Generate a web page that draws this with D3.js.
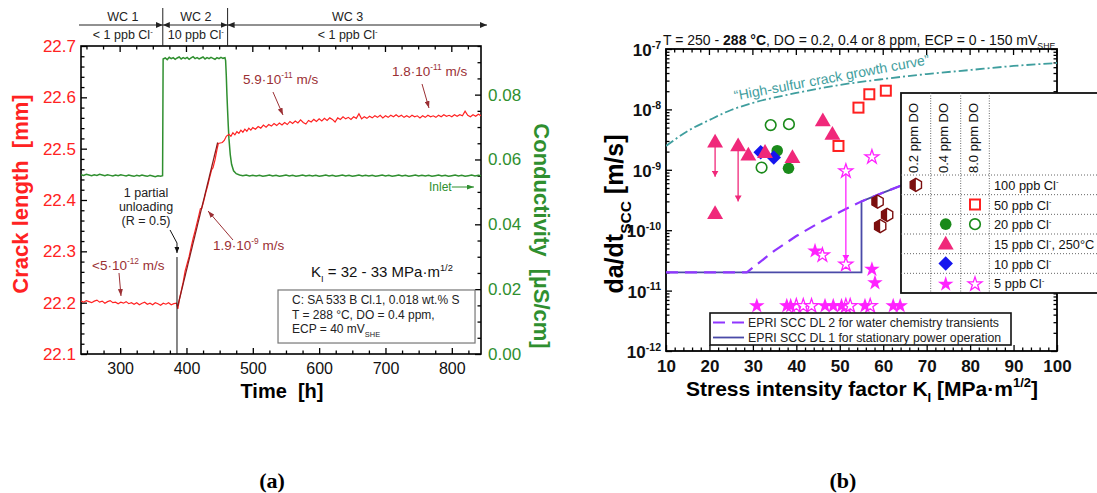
<!DOCTYPE html>
<html><head><meta charset="utf-8">
<script src="https://cdn.jsdelivr.net/npm/d3@7"></script>
<style>
body{margin:0;background:#fff;}
svg{display:block;}
text{white-space:pre;}
</style></head><body>
<svg id="c" width="1097" height="493"></svg>
<script>
// ================= DATA =================
// Panel (a): crack length [mm] vs time [h]
const crackLength = [
[241,22.203],[245,22.201],[249,22.204],[253,22.202],[257,22.200],[261,22.203],[265,22.205],[269,22.201],[273,22.203],[277,22.199],
[281,22.202],[285,22.204],[289,22.200],[293,22.201],[297,22.198],[301,22.201],[305,22.199],[309,22.202],[313,22.198],[317,22.200],
[321,22.197],[325,22.200],[329,22.196],[333,22.199],[337,22.201],[341,22.197],[345,22.199],[349,22.196],[353,22.200],[357,22.198],
[361,22.195],[365,22.199],[369,22.197],[373,22.200],[377,22.196],[381,22.198],[385,22.199],
[387,22.188],[389,22.204],[392,22.222],[395,22.240],[398,22.262],[401,22.276],[404,22.290],[407,22.308],[410,22.325],[413,22.340],
[416,22.356],[419,22.372],[421,22.383],[423,22.384],[426,22.398],[429,22.414],[432,22.428],[435,22.444],[438,22.459],[440,22.463],
[443,22.478],[446,22.498],[448,22.510],[451,22.511],[454,22.512],[457,22.516],[460,22.524],
[464,22.528],[467,22.524],[470,22.531],[473,22.527],[476,22.533],[479,22.530],[482,22.536],[485,22.532],[488,22.538],[491,22.534],
[494,22.540],[497,22.536],[500,22.541],[504,22.538],[508,22.543],[512,22.540],[516,22.546],[520,22.542],[524,22.547],[528,22.544],
[532,22.549],[536,22.545],[540,22.550],[544,22.546],[548,22.551],[552,22.547],[556,22.553],[560,22.549],[564,22.554],[568,22.550],
[572,22.556],[576,22.551],[580,22.548],[584,22.555],[588,22.552],[592,22.557],[596,22.553],[600,22.558],[604,22.554],[608,22.559],
[612,22.555],[616,22.560],[620,22.557],[624,22.552],[628,22.560],[632,22.557],[636,22.562],[640,22.558],[644,22.561],[648,22.557],
[652,22.562],[656,22.559],[660,22.568],[664,22.558],[668,22.562],[672,22.559],[676,22.563],[680,22.560],[684,22.564],[688,22.561],
[692,22.565],[696,22.560],[700,22.564],[704,22.561],[708,22.565],[712,22.562],[716,22.566],[720,22.562],[724,22.565],[728,22.561],
[732,22.564],[736,22.561],[740,22.565],[744,22.562],[748,22.564],[752,22.560],[756,22.564],[760,22.561],[764,22.565],[768,22.562],
[772,22.564],[776,22.561],[780,22.565],[784,22.562],[788,22.566],[792,22.563],[796,22.565],[800,22.562],[804,22.566],[808,22.563],
[812,22.566],[816,22.564],[820,22.573],[824,22.565],[828,22.562],[832,22.566],[836,22.563],[840,22.567],[844,22.564]
];
const crackFit = [[387,22.194],[447,22.512]];
// Panel (a): conductivity [uS/cm] vs time [h]
const conductivity = [
[241,0.0553],[245,0.0551],[249,0.0554],[253,0.0552],[257,0.0550],[261,0.0553],[265,0.0551],[269,0.0554],[273,0.0552],[277,0.0550],
[281,0.0553],[285,0.0551],[289,0.0549],[293,0.0552],[297,0.0550],[301,0.0553],[305,0.0551],[309,0.0549],[313,0.0552],[317,0.0550],
[321,0.0548],[325,0.0551],[329,0.0549],[333,0.0552],[337,0.0550],[341,0.0548],[345,0.0551],[349,0.0549],[353,0.0547],[357,0.0550],
[361,0.0548],[364,0.0550],
[364.8,0.0910],[368,0.0913],[371,0.0908],[374,0.0915],[377,0.0911],[380,0.0914],[383,0.0909],[386,0.0913],[389,0.0916],[392,0.0910],
[395,0.0914],[398,0.0911],[401,0.0915],[404,0.0909],[407,0.0913],[410,0.0917],[413,0.0911],[416,0.0914],[419,0.0910],[422,0.0913],
[425,0.0916],[428,0.0910],[431,0.0914],[434,0.0911],[437,0.0915],[440,0.0912],[443,0.0909],[446,0.0914],[449,0.0911],[452,0.0915],
[455,0.0912],[458,0.0914],
[459,0.0905],[460,0.0860],[461,0.0800],[462,0.0750],[463,0.0705],[464,0.0665],[466,0.0615],[468,0.0585],[471,0.0565],[475,0.0556],
[480,0.0552],[485,0.0550],[490,0.0552],[495,0.0549],[500,0.0551],[505,0.0549],[510,0.0551],[515,0.0548],[520,0.0550],[525,0.0552],
[530,0.0549],[535,0.0551],[540,0.0548],[545,0.0550],[550,0.0552],[555,0.0549],[560,0.0551],[565,0.0548],[570,0.0550],[575,0.0552],
[580,0.0549],[585,0.0551],[590,0.0549],[595,0.0551],[600,0.0548],[605,0.0550],[610,0.0552],[615,0.0549],[620,0.0551],[625,0.0548],
[630,0.0550],[635,0.0552],[640,0.0549],[645,0.0551],[650,0.0548],[655,0.0550],[660,0.0552],[665,0.0549],[670,0.0551],[675,0.0549],
[680,0.0551],[685,0.0548],[690,0.0550],[695,0.0552],[700,0.0549],[705,0.0551],[710,0.0548],[715,0.0550],[720,0.0552],[725,0.0549],
[730,0.0551],[735,0.0548],[740,0.0550],[745,0.0552],[750,0.0549],[755,0.0551],[760,0.0549],[765,0.0551],[770,0.0548],[775,0.0550],
[780,0.0552],[785,0.0549],[790,0.0551],[795,0.0548],[800,0.0550],[805,0.0552],[810,0.0549],[815,0.0551],[820,0.0548],[825,0.0550],
[830,0.0552],[835,0.0549],[840,0.0551],[844,0.0550]
];
const timeTicks = [300,400,500,600,700,800];
const crackTicks = [22.1,22.2,22.3,22.4,22.5,22.6,22.7];
const condTicks = [0,0.02,0.04,0.06,0.08];
const wcPhases = [
  {name:"WC 1", cl:"< 1 ppb Cl", from:238, to:364.3, mid:304},
  {name:"WC 2", cl:"10 ppb Cl", from:364.3, to:462, mid:414},
  {name:"WC 3", cl:"< 1 ppb Cl", from:462, to:853, mid:643}
];

// Panel (b): da/dt [m/s] vs K_I [MPa m^1/2]
const kTicks = [10,20,30,40,50,60,70,80,90,100];
const rateTicks = [1e-12,1e-11,1e-10,1e-9,1e-8,1e-7];
const rateExp = [-12,-11,-10,-9,-8,-7];
const highSulfur = [[10,2.48e-9],[15,4.39e-9],[20,6.68e-9],[25,9.77e-9],[30,1.28e-8],[40,1.87e-8],[50,2.54e-8],[60,3.18e-8],[70,3.85e-8],[80,4.49e-8],[90,5.24e-8],[100,5.86e-8]];
const dl1 = [[10,2e-11],[55,2e-11],[55,3.0e-10],[60,4.2e-10],[65,5.8e-10],[70,7.8e-10]];
const dl2 = [[10,2e-11],[28.6,2e-11],[35,4.6e-11],[40,8.0e-11],[45,1.3e-10],[50,2.0e-10],[55,3.0e-10],[60,4.2e-10],[65,5.8e-10],[70,7.8e-10]];
const hex100 = [[58.7,2.97e-10],[60.9,1.79e-10],[59.3,1.17e-10]];
const squares50 = [[54.3,1.07e-8],[56.8,1.78e-8],[60.6,2.04e-8],[49.7,2.48e-9]];
const circles20Filled = [[35.6,2.07e-9],[38.2,1.06e-9]];
const circles20Open = [[34.1,5.5e-9],[38.3,5.7e-9],[32.0,1.09e-9]];
const triangles15 = [[21.3,2.9e-9],[21.3,1.9e-10],[26.6,2.5e-9],[28.95,1.76e-9],[32.8,1.95e-9],[39.1,1.6e-9],[46.1,6.5e-9],[48.3,3.9e-9]];
const triangleDrops = [[21.3,2.9e-9,7.7e-10],[26.6,2.5e-9,3.0e-10]];
const diamonds10 = [[31.8,1.95e-9],[34.8,1.6e-9]];
const stars5Filled = [[44.3,4.7e-11],[57.4,2.34e-11],[58.1,1.4e-11],[30.9,5.8e-12],[37.8,5.8e-12],[38.7,5.8e-12],[46.6,5.8e-12],[48.5,5.8e-12],[50.4,5.8e-12],[55.8,5.8e-12],[62.3,5.8e-12],[63.9,5.8e-12]];
const stars5Open = [[51.4,9.9e-10],[51.4,2.83e-11],[57.4,1.69e-9],[46.0,4.0e-11],[40.0,5.8e-12],[41.6,5.8e-12],[43.5,5.8e-12],[51.4,5.8e-12],[52.4,5.8e-12],[57.0,5.8e-12]];
const starDrops = [[51.4,9.9e-10,3.1e-11]];
const legendRows = ["100 ppb Cl|-|", "50 ppb Cl|-|", "20 ppb Cl|-|", "15 ppb Cl|-|, 250°C", "10 ppb Cl|-|", "5 ppb Cl|-|"];
const legendCols = ["0.2 ppm DO","0.4 ppm DO","8.0 ppm DO"];
const legendCells = [[0,0,"hex"],[1,2,"sq"],[2,1,"circF"],[2,2,"circO"],[3,1,"tri"],[4,1,"dia"],[5,1,"starF"],[5,2,"starO"]];

// ================= DRAWING =================
const FONT = '"Liberation Sans", Arial, Helvetica, sans-serif';
const svg = d3.select("#c");
svg.append("rect").attr("width",1097).attr("height",493).attr("fill","#fff");
const defs = svg.append("defs");
function arrowMarker(id,color,w,h){
  defs.append("marker").attr("id",id).attr("viewBox",`0 0 ${w} ${h}`).attr("refX",w).attr("refY",h/2)
    .attr("markerWidth",w).attr("markerHeight",h).attr("markerUnits","userSpaceOnUse").attr("orient","auto-start-reverse")
    .append("path").attr("d",`M0,0L${w},${h/2}L0,${h}Z`).attr("fill",color);
}
arrowMarker("aDR","#9b3034",7,5);
arrowMarker("aK","#111",6,5);
arrowMarker("aG","#2f8f2f",7,5);
arrowMarker("aH","#222",7,6);
arrowMarker("aP","#f0287a",6,7);
arrowMarker("aM","#ff22ff",6,7);

function rich(parent, x, y, parts, o={}){
  const fs = o.size||12;
  const t = parent.append("text").attr("x",x).attr("y",y).attr("font-size",fs).attr("font-family",o.family||FONT)
    .attr("fill",o.fill||"#000").attr("font-weight",o.weight||"normal").attr("text-anchor",o.anchor||"start");
  if(o.transform) t.attr("transform",o.transform);
  let cur=0;
  parts.forEach(p=>{
    const [s,m,w] = Array.isArray(p)?p:[p,"n"];
    const mode = m||"n";
    const shift = mode==="sup"? -0.42*fs : mode==="sub"? 0.3*fs : 0;
    const ts = t.append("tspan").text(s).attr("dy", shift-cur);
    if(mode!=="n") ts.attr("font-size", fs*0.62);
    if(w) ts.attr("font-weight",w);
    cur = shift;
  });
  return t;
}
function clParts(str){
  const seg = str.split("|");
  const out=[];
  seg.forEach((s,i)=>{ if(s!=="") out.push([s, i%2===1?"sup":"n"]); });
  return out;
}
function drawAxis(parent, gen, scale, tr, vals, len, pad, fmt, style){
  const g = parent.append("g").attr("transform",tr)
    .call(gen(scale).tickValues(vals).tickSize(-len).tickPadding(pad).tickFormat(fmt||(()=>"")));
  g.select(".domain").remove();
  g.selectAll("line").attr("stroke","#000").attr("stroke-width",1.3);
  g.selectAll("text").attr("font-family",FONT);
  if(style) style(g.selectAll("text"));
  return g;
}
function range(a,b,s){const r=[];for(let v=a;v<=b+1e-9;v+=s)r.push(+v.toFixed(6));return r;}

// ---------- Panel (a) ----------
const xa = d3.scaleLinear([241,844],[81,481]);
const ya = d3.scaleLinear([22.1,22.7],[354,46]);
const yc = d3.scaleLinear([0,0.095],[354,46]);
const A = svg.append("g");
A.append("clipPath").attr("id","clipA").append("rect").attr("x",81).attr("y",46).attr("width",400).attr("height",308);

const RED="#ff2222", GREEN="#2f8f2f", DRED="#9b3034";
const tMinor = range(250,825,25).filter(v=>v%100!==0);
drawAxis(A,d3.axisBottom,xa,"translate(0,354)",timeTicks,6,9,d3.format("d"),s=>s.attr("font-size",16).attr("fill","#111"));
drawAxis(A,d3.axisBottom,xa,"translate(0,354)",tMinor,3.5,0);
A.append("g").selectAll("line").data(timeTicks.concat(tMinor)).join("line")
  .attr("x1",d=>xa(d)).attr("x2",d=>xa(d)).attr("y1",46).attr("y2",d=>46+(d%100===0?6:3.5)).attr("stroke","#000").attr("stroke-width",1.3);

drawAxis(A,d3.axisLeft,ya,"translate(81,0)",crackTicks,6,5,d3.format(".1f"),s=>s.attr("font-size",17).attr("fill",RED));
drawAxis(A,d3.axisLeft,ya,"translate(81,0)",range(22.1,22.7,0.02).filter((v,i)=>i%5!==0),3.5,0);
drawAxis(A,d3.axisRight,yc,"translate(481,0)",condTicks,6,7,d3.format(".2f"),s=>s.attr("font-size",17).attr("fill",GREEN));
drawAxis(A,d3.axisRight,yc,"translate(481,0)",range(0,0.095,0.005).filter((v,i)=>i%4!==0),3.5,0);
A.append("rect").attr("x",81).attr("y",46).attr("width",400).attr("height",308).attr("fill","none").attr("stroke","#000").attr("stroke-width",1.6);

const plotA = A.append("g").attr("clip-path","url(#clipA)");
plotA.append("path").datum(conductivity).attr("fill","none").attr("stroke",GREEN).attr("stroke-width",1.5)
  .attr("d",d3.line().x(d=>xa(d[0])).y(d=>yc(d[1])));
plotA.append("path").datum(crackLength).attr("fill","none").attr("stroke",RED).attr("stroke-width",1.2)
  .attr("d",d3.line().x(d=>xa(d[0])).y(d=>ya(d[1])));
plotA.append("path").datum(crackFit).attr("fill","none").attr("stroke","#8b1a1a").attr("stroke-width",1.2)
  .attr("d",d3.line().x(d=>xa(d[0])).y(d=>ya(d[1])));

// WC header
const hdr = A.append("g").attr("font-family",FONT);
wcPhases.forEach(p=>{
  hdr.append("line").attr("x1",xa(p.from)).attr("x2",xa(p.to)).attr("y1",25).attr("y2",25).attr("stroke","#222").attr("stroke-width",1)
    .attr("marker-end","url(#aH)").attr("marker-start", p.from>300?"url(#aH)":null);
  hdr.append("text").attr("x",xa(p.mid)).attr("y",21).attr("text-anchor","middle").attr("font-size",12.5).attr("fill","#222").text(p.name);
  rich(hdr, xa(p.mid), 39, [[p.cl],["-","sup"]], {size:12.5, anchor:"middle", fill:"#222"});
});
[364.3,462].forEach(t=>hdr.append("line").attr("x1",xa(t)).attr("x2",xa(t)).attr("y1",8).attr("y2",46).attr("stroke","#222").attr("stroke-width",1));

// annotations (a)
const annA = [
  {t:257.6,L:22.2636,parts:[["<5·10"],["-12","sup"],[" m/s"]],arr:[[298.3,22.2578],[301.3,22.2130]]},
  {t:440.0,L:22.3026,parts:[["1.9·10"],["-9","sup"],[" m/s"]],arr:[[470.1,22.3221],[432.5,22.3786]]},
  {t:485.2,L:22.626,parts:[["5.9·10"],["-11","sup"],[" m/s"]],arr:[[530.4,22.6104],[545.5,22.5656]]},
  {t:709.8,L:22.6416,parts:[["1.8·10"],["-11","sup"],[" m/s"]],arr:[[755.1,22.626],[765.6,22.5792]]}
];
annA.forEach(a=>{
  rich(A, xa(a.t), ya(a.L), a.parts, {size:13.5, fill:DRED});
  A.append("line").attr("x1",xa(a.arr[0][0])).attr("y1",ya(a.arr[0][1])).attr("x2",xa(a.arr[1][0])).attr("y2",ya(a.arr[1][1]))
    .attr("stroke",DRED).attr("stroke-width",1).attr("marker-end","url(#aDR)");
});
[["1 partial",22.4058],["unloading",22.3786],["(R = 0.5)",22.3513]].forEach(([s,L])=>
  A.append("text").attr("x",xa(339)).attr("y",ya(L)).attr("text-anchor","middle").attr("font-family",FONT).attr("font-size",12.5).attr("fill","#222").text(s));
A.append("path").attr("d",`M${xa(375.2)},${ya(22.3416)}L${xa(385.7)},${ya(22.3162)}L${xa(385.7)},${ya(22.2967)}`)
  .attr("fill","none").attr("stroke","#111").attr("stroke-width",1).attr("marker-end","url(#aK)");
A.append("line").attr("x1",xa(385.7)).attr("x2",xa(385.7)).attr("y1",ya(22.2889)).attr("y2",ya(22.1)).attr("stroke","#111").attr("stroke-width",1);
A.append("text").attr("x",xa(765.6)).attr("y",ya(22.4175)).attr("font-family",FONT).attr("font-size",12).attr("fill",GREEN).text("Inlet");
A.append("line").attr("x1",xa(800)).attr("x2",xa(833.4)).attr("y1",ya(22.4253)).attr("y2",ya(22.4253)).attr("stroke",GREEN).attr("stroke-width",1).attr("marker-end","url(#aG)");
rich(A, xa(587.7), ya(22.25), [["K"],["I","sub"],[" = 32 - 33 MPa·m"],["1/2","sup"]], {size:15, fill:"#111"});
A.append("rect").attr("x",xa(538)).attr("y",ya(22.2247)).attr("width",xa(835)-xa(538)).attr("height",ya(22.1214)-ya(22.2247))
  .attr("fill","#fff").attr("stroke","#777").attr("stroke-width",1.2);
rich(A, xa(559.1), ya(22.1974), [["C: SA 533 B Cl.1, 0.018 wt.% S"]], {size:12, fill:"#222"});
rich(A, xa(559.1), ya(22.1682), [["T = 288 °C, DO = 0.4 ppm,"]], {size:12, fill:"#222"});
rich(A, xa(559.1), ya(22.1409), [["ECP = 40 mV"],["SHE","sub"]], {size:12, fill:"#222"});

// axis titles (a)
rich(A, 0, 0, [["Crack length  [mm]"]], {size:22, weight:"bold", fill:RED, anchor:"middle", transform:"translate(28,194) rotate(-90)"});
rich(A, 0, 0, [["Conductivity  [µS/cm]"]], {size:22, weight:"bold", fill:GREEN, anchor:"middle", transform:"translate(534,236) rotate(90)"});
rich(A, 282, 398, [["Time  [h]"]], {size:20, weight:"bold", fill:"#000", anchor:"middle"});

// ---------- Panel (b) ----------
const xb = d3.scaleLinear([10,100],[666,1057]);
const yb = d3.scaleLog([1e-12,1e-7],[351,49]);
const B = svg.append("g");
B.append("clipPath").attr("id","clipB").append("rect").attr("x",666).attr("y",49).attr("width",391).attr("height",302);
const kMinor = range(12,98,2).filter(v=>v%10!==0);
const rMinor = [];
rateTicks.slice(0,-1).forEach(d=>{for(let k=2;k<=9;k++) rMinor.push(d*k);});

drawAxis(B,d3.axisBottom,xb,"translate(0,351)",kTicks,6,9,d3.format("d"),s=>s.attr("font-size",17).attr("font-weight","bold").attr("fill","#111"));
drawAxis(B,d3.axisBottom,xb,"translate(0,351)",kMinor,3.5,0);
drawAxis(B,d3.axisLeft,yb,"translate(666,0)",rateTicks,6,0);
drawAxis(B,d3.axisLeft,yb,"translate(666,0)",rMinor,3.5,0);
drawAxis(B,d3.axisRight,yb,"translate(1057,0)",rateTicks,6,0);
drawAxis(B,d3.axisRight,yb,"translate(1057,0)",rMinor,3.5,0);
B.append("g").selectAll("line").data(kTicks.concat(kMinor)).join("line")
  .attr("x1",d=>xb(d)).attr("x2",d=>xb(d)).attr("y1",49).attr("y2",d=>49+(d%10===0?6:3.5)).attr("stroke","#000").attr("stroke-width",1.3);
B.append("rect").attr("x",666).attr("y",49).attr("width",391).attr("height",302).attr("fill","none").attr("stroke","#000").attr("stroke-width",1.8);
rateTicks.forEach((d,i)=>rich(B, 661, yb(d)+7, [["10"],[String(rateExp[i]),"sup"]], {size:17, weight:"bold", anchor:"end", fill:"#111"}));

const plotB = B.append("g").attr("clip-path","url(#clipB)");
const lineB = d3.line().x(d=>xb(d[0])).y(d=>yb(d[1]));
plotB.append("path").datum(highSulfur).attr("fill","none").attr("stroke","#3f9e9e").attr("stroke-width",1.8)
  .attr("stroke-dasharray","9,3,2,3").attr("d",lineB.curve(d3.curveMonotoneX));
lineB.curve(d3.curveLinear);
plotB.append("path").datum(dl1).attr("fill","none").attr("stroke","#4a4aa8").attr("stroke-width",1.8).attr("d",lineB);
plotB.append("path").datum(dl2).attr("fill","none").attr("stroke","#9036ff").attr("stroke-width",2.2).attr("stroke-dasharray","12,7").attr("d",lineB);
B.append("text").attr("font-family",FONT).attr("font-size",14).attr("fill","#3f9e9e")
  .attr("transform",`translate(${xb(25.9)},${yb(1.4e-8)}) rotate(-10.6)`).text("\u201CHigh-sulfur crack growth curve\u201D");

const PINK="#f0287a", BLUE="#1515ee", GRN="#1a8a1a", SQR="#ff2020", HEX="#7b0e0e", MAG="#ff22ff";
function marker(g,type,x,y){
  if(type==="tri"){g.append("path").attr("d",d3.symbol(d3.symbolTriangle,110)()).attr("transform",`translate(${x},${y+1})`).attr("fill",PINK);}
  else if(type==="dia"){g.append("path").attr("d",d3.symbol(d3.symbolSquare,105)()).attr("transform",`translate(${x},${y}) rotate(45)`).attr("fill",BLUE);}
  else if(type==="circF"){g.append("circle").attr("cx",x).attr("cy",y).attr("r",5.8).attr("fill",GRN);}
  else if(type==="circO"){g.append("circle").attr("cx",x).attr("cy",y).attr("r",5.3).attr("fill","#fff").attr("stroke",GRN).attr("stroke-width",1.6);}
  else if(type==="sq"){g.append("rect").attr("x",x-5).attr("y",y-5).attr("width",10).attr("height",10).attr("fill","#fff").attr("stroke",SQR).attr("stroke-width",2);}
  else if(type==="hex"){
    const r=6.5, pts=d3.range(6).map(i=>{const a=(-90+60*i)*Math.PI/180;return [x+r*Math.cos(a),y+r*Math.sin(a)];});
    g.append("path").attr("d","M"+pts.join("L")+"Z").attr("fill","#fff").attr("stroke",HEX).attr("stroke-width",1.4);
    g.append("path").attr("d","M"+[pts[0],pts[5],pts[4],pts[3]].join("L")+"Z").attr("fill",HEX);
  }
  else if(type==="starF"){g.append("path").attr("d",d3.symbol(d3.symbolStar,75)()).attr("transform",`translate(${x},${y+1})`).attr("fill",MAG);}
  else if(type==="starO"){g.append("path").attr("d",d3.symbol(d3.symbolStar,60)()).attr("transform",`translate(${x},${y+1})`).attr("fill","#fff").attr("stroke",MAG).attr("stroke-width",1.3);}
}
const M = B.append("g");
triangleDrops.forEach(d=>M.append("line").attr("x1",xb(d[0])).attr("x2",xb(d[0])).attr("y1",yb(d[1])).attr("y2",yb(d[2]))
  .attr("stroke",PINK).attr("stroke-width",1.3).attr("marker-end","url(#aP)"));
starDrops.forEach(d=>M.append("line").attr("x1",xb(d[0])).attr("x2",xb(d[0])).attr("y1",yb(d[1])).attr("y2",yb(d[2]))
  .attr("stroke",MAG).attr("stroke-width",1.3).attr("marker-end","url(#aM)"));
hex100.forEach(d=>marker(M,"hex",xb(d[0]),yb(d[1])));
squares50.forEach(d=>marker(M,"sq",xb(d[0]),yb(d[1])));
circles20Open.forEach(d=>marker(M,"circO",xb(d[0]),yb(d[1])));
circles20Filled.forEach(d=>marker(M,"circF",xb(d[0]),yb(d[1])));
diamonds10.forEach(d=>marker(M,"dia",xb(d[0]),yb(d[1])));
triangles15.forEach(d=>marker(M,"tri",xb(d[0]),yb(d[1])));
stars5Open.forEach(d=>marker(M,"starO",xb(d[0]),yb(d[1])));
stars5Filled.forEach(d=>marker(M,"starF",xb(d[0]),yb(d[1])));

// title (b)
rich(B, 663, 45, [["T = 250 - "],["288 °C","n","bold"],[", DO = 0.2, 0.4 or 8 ppm, ECP = 0 - 150 mV"],["SHE","sub"]], {size:14, fill:"#111"});
// axis titles (b)
rich(B, 0, 0, [["da/dt"],["SCC","sub"],[" [m/s]"]], {size:25, weight:"bold", anchor:"middle", fill:"#000", transform:"translate(623,214) rotate(-90)"});
rich(B, 862, 396, [["Stress intensity factor K"],["I","sub"],[" [MPa·m"],["1/2","sup"],["]"]], {size:21, weight:"bold", anchor:"middle", fill:"#000"});

// legend table
const LT = B.append("g");
const lx0=901, ly0=93, ly1=293, hdrB=175, rowH=(ly1-hdrB)/6;
const colX=[901,930.7,960.7,989.3];
LT.append("rect").attr("x",lx0).attr("y",ly0).attr("width",230).attr("height",ly1-ly0).attr("fill","#fff").attr("stroke","#111").attr("stroke-width",1.8);
colX.slice(1).forEach(x=>LT.append("line").attr("x1",x).attr("x2",x).attr("y1",ly0).attr("y2",ly1).attr("stroke","#666").attr("stroke-width",1).attr("stroke-dasharray","1,1.5"));
d3.range(6).forEach(i=>LT.append("line").attr("x1",lx0).attr("x2",1097).attr("y1",hdrB+i*rowH).attr("y2",hdrB+i*rowH).attr("stroke","#666").attr("stroke-width",1).attr("stroke-dasharray","1,2"));
legendCols.forEach((s,i)=>LT.append("text").attr("font-family",FONT).attr("font-size",13).attr("fill","#111")
  .attr("transform",`translate(${colX[i]+17},${hdrB-2}) rotate(-90)`).text(s));
legendRows.forEach((s,i)=>rich(LT, 994, hdrB+i*rowH+rowH/2+5, clParts(s), {size:12.8, fill:"#111"}));
legendCells.forEach(([r,c,type])=>marker(LT,type,(colX[c]+colX[c+1])/2,hdrB+r*rowH+rowH/2));

// lower legend (b)
const LL = B.append("g");
LL.append("rect").attr("x",710).attr("y",313).attr("width",301).attr("height",32).attr("fill","#fff").attr("stroke","#111").attr("stroke-width",1.6);
LL.append("line").attr("x1",713).attr("x2",744).attr("y1",322.5).attr("y2",322.5).attr("stroke","#9036ff").attr("stroke-width",2.2).attr("stroke-dasharray","12,7");
LL.append("line").attr("x1",713).attr("x2",744).attr("y1",337.5).attr("y2",337.5).attr("stroke","#4a4aa8").attr("stroke-width",1.8);
rich(LL, 748, 327, [["EPRI SCC DL 2 for water chemistry transients"]], {size:12.3, fill:"#222"});
rich(LL, 748, 342, [["EPRI SCC DL 1 for stationary power operation"]], {size:12.3, fill:"#222"});

// panel letters
svg.append("text").attr("x",272).attr("y",488).attr("text-anchor","middle").attr("font-family",'"Liberation Serif","Times New Roman",serif').attr("font-weight","bold").attr("font-size",22).text("(a)");
svg.append("text").attr("x",843).attr("y",488).attr("text-anchor","middle").attr("font-family",'"Liberation Serif","Times New Roman",serif').attr("font-weight","bold").attr("font-size",22).text("(b)");
</script>
</body></html>
